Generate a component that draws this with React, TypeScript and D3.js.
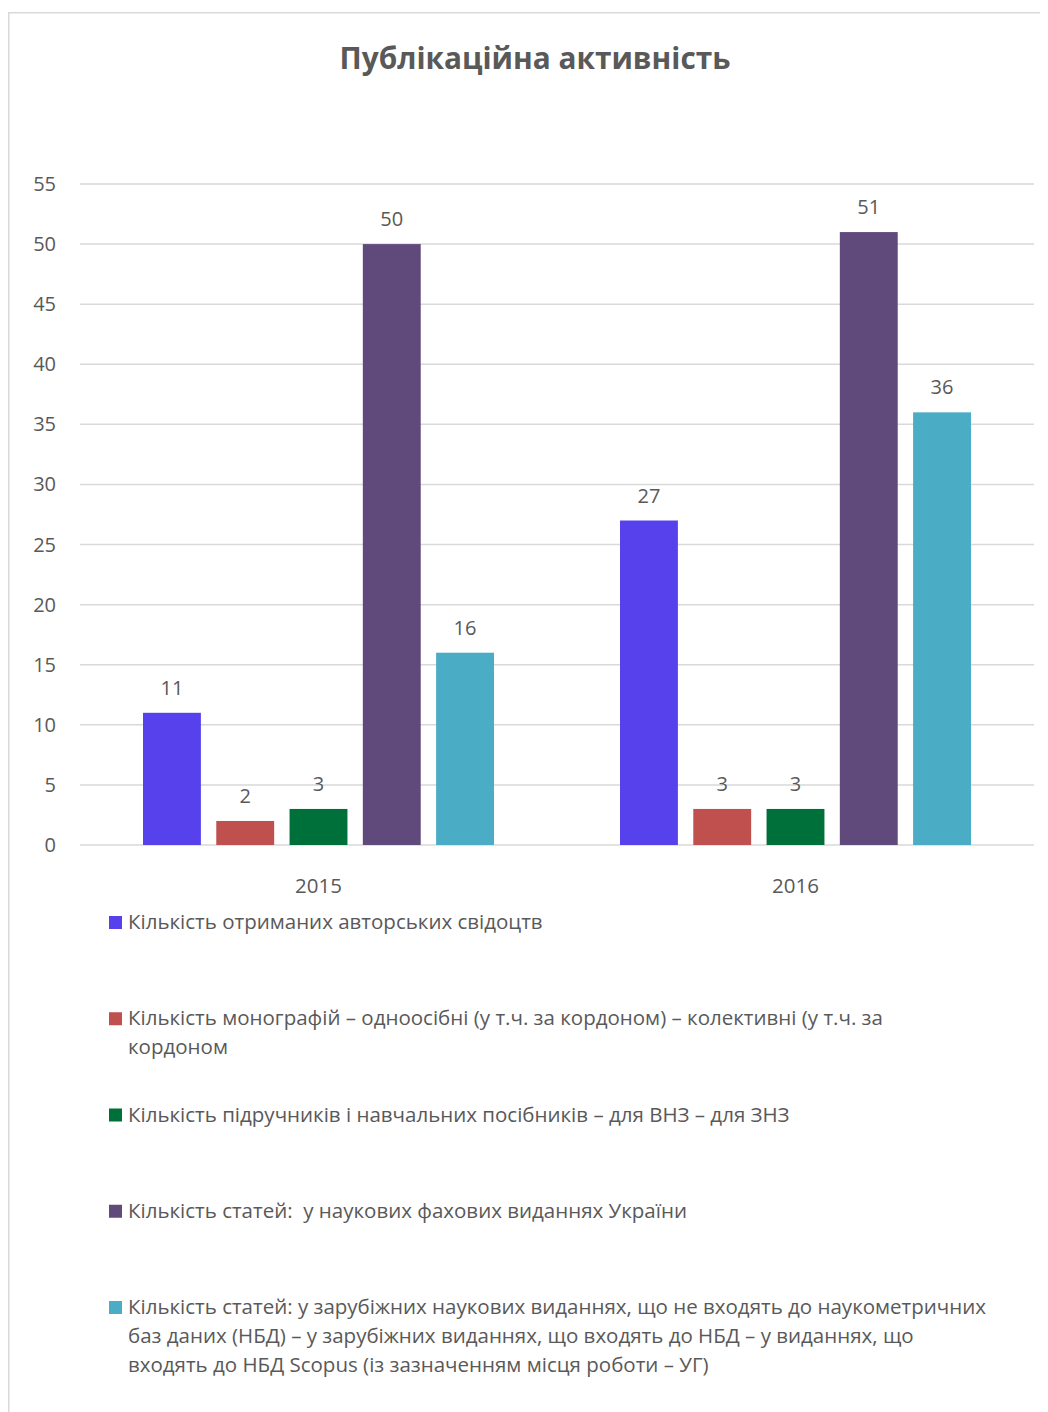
import React from "react";
import * as d3 from "d3";

const title = "Публікаційна активність";
const categories = ["2015", "2016"];
const seriesNames = [
  ["Кількість отриманих авторських свідоцтв"],
  ["Кількість монографій – одноосібні (у т.ч. за кордоном) – колективні (у т.ч. за", "кордоном"],
  ["Кількість підручників і навчальних посібників – для ВНЗ – для ЗНЗ"],
  ["Кількість статей:  у наукових фахових виданнях України"],
  [
    "Кількість статей: у зарубіжних наукових виданнях, що не входять до наукометричних",
    "баз даних (НБД) – у зарубіжних виданнях, що входять до НБД – у виданнях, що",
    "входять до НБД Scopus (із зазначенням місця роботи – УГ)",
  ],
];
const seriesColors = ["#5641ED", "#C0504D", "#00703A", "#604A7B", "#4BACC6"];
const values2015 = [11, 2, 3, 50, 16];
const values2016 = [27, 3, 3, 51, 36];
const yTicks = [0, 5, 10, 15, 20, 25, 30, 35, 40, 45, 50, 55];

const FONT = "'Open Sans', 'Noto Sans', sans-serif";
const TEXT = "#595959";
const GRID = "#D9D9D9";

export default function App() {
  const plotLeft = 80;
  const plotRight = 1034;
  const plotTop = 184;
  const plotBottom = 845;

  const y = d3.scaleLinear().domain([0, 55]).range([plotBottom, plotTop]);
  const x0 = d3.scaleBand<string>().domain(categories).range([plotLeft, plotRight]).padding(0);
  const bw = x0.bandwidth();
  const outer = bw * (63 / 477);
  const x1 = d3
    .scaleBand<number>()
    .domain(d3.range(seriesNames.length))
    .range([outer, bw - outer])
    .paddingInner(0.21)
    .paddingOuter(0);

  const data = [values2015, values2016];
  const legendY = d3.scaleLinear().domain([0, 4]).range([929, 1314]);

  return (
    <svg width={1040} height={1404} style={{ display: "block" }} fontFamily={FONT}>
      <g transform="translate(-8,-8)">
        <rect x={0} y={0} width={1056} height={1420} fill="#fff" />
        <rect x={8.75} y={12.75} width={1100} height={1500} fill="none" stroke={GRID} strokeWidth={1.5} />
        <text x={535} y={69} textAnchor="middle" fontSize={29.8} fontWeight={700} fill={TEXT}>
          {title}
        </text>
        {yTicks.map((t) => (
          <g key={t}>
            <line x1={plotLeft} x2={plotRight} y1={y(t)} y2={y(t)} stroke={GRID} strokeWidth={1.5} />
            <text x={56} y={y(t) + 7} textAnchor="end" fontSize={20} fill={TEXT}>
              {t}
            </text>
          </g>
        ))}
        {categories.map((c, ci) => (
          <g key={c} transform={`translate(${x0(c)},0)`}>
            {data[ci].map((v, si) => (
              <g key={si}>
                <rect
                  x={x1(si)}
                  y={y(v)}
                  width={x1.bandwidth()}
                  height={y(0) - y(v)}
                  fill={seriesColors[si]}
                />
                <text
                  x={(x1(si) as number) + x1.bandwidth() / 2}
                  y={y(v) - 18}
                  textAnchor="middle"
                  fontSize={20}
                  fill={TEXT}
                >
                  {v}
                </text>
              </g>
            ))}
            <text x={bw / 2} y={893} textAnchor="middle" fontSize={20.5} fill={TEXT}>
              {c}
            </text>
          </g>
        ))}
        {seriesNames.map((lines, i) => (
          <g key={i}>
            <rect x={109} y={legendY(i) - 13} width={13} height={13} fill={seriesColors[i]} />
            {lines.map((ln, li) => (
              <text key={li} x={128} y={legendY(i) + li * 29} fontSize={20.5} fill={TEXT} xmlSpace="preserve">
                {ln}
              </text>
            ))}
          </g>
        ))}
      </g>
    </svg>
  );
}
